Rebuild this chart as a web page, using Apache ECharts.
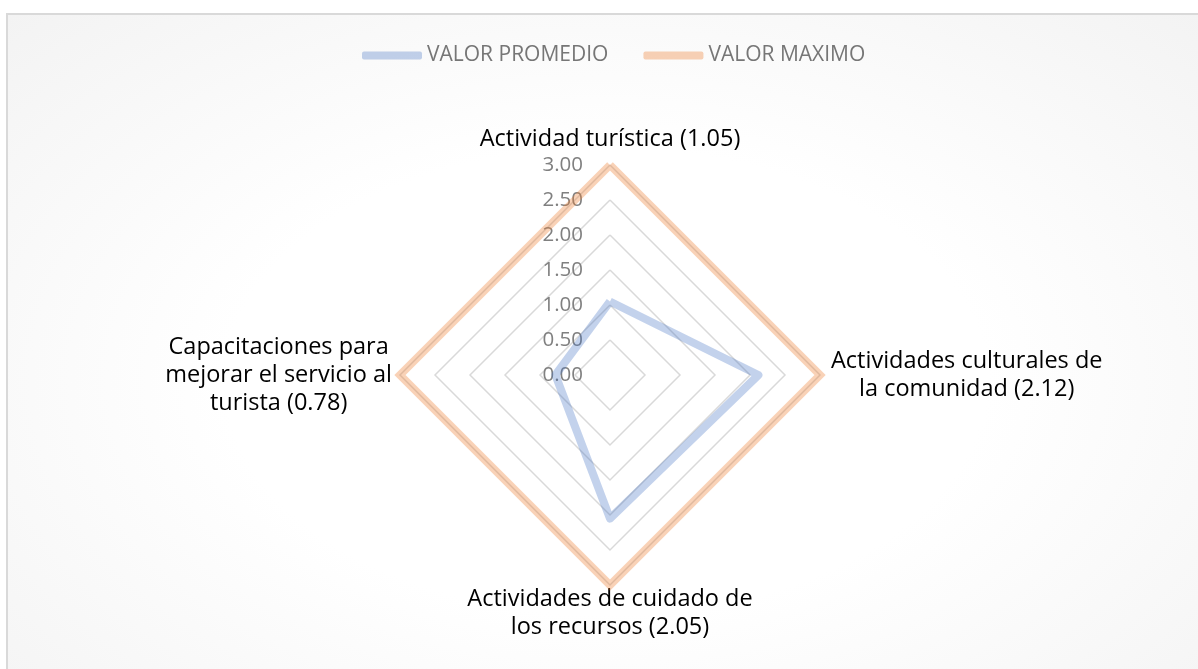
<!DOCTYPE html>
<html>
<head>
<meta charset="utf-8">
<script src="https://cdn.jsdelivr.net/npm/echarts@6/dist/echarts.min.js"></script>
<style>
html,body{margin:0;padding:0;background:#fff;width:1198px;height:669px;overflow:hidden;}
#frame{position:absolute;left:6px;top:13px;width:1200px;height:670px;box-sizing:border-box;border:2px solid #d9d9d9;
background:radial-gradient(ellipse at 50% 55%, #ffffff 0%, #ffffff 45%, #f3f3f3 100%);}
#chart{position:absolute;left:0;top:0;width:1196px;height:666px;}
</style>
</head>
<body>
<div id="frame"><div id="chart"></div></div>
<script>
// categories in clockwise order starting at the top
const categories = [
  'Actividad turística (1.05)',
  'Actividades culturales de\nla comunidad (2.12)',
  'Actividades de cuidado de\nlos recursos (2.05)',
  'Capacitaciones para\nmejorar el servicio al\nturista (0.78)'
];
const promedio = [1.05, 2.12, 2.05, 0.78];
const maximo = [3, 3, 3, 3];
const seriesNames = ['VALOR PROMEDIO', 'VALOR MAXIMO'];
const axisMax = 3;
const axisStep = 0.5;

// ECharts radar runs counter-clockwise; reorder so the picture reads clockwise
const order = [0, 3, 2, 1];
const pick = arr => order.map(i => arr[i]);
// label style per position (top, right, bottom, left)
const nameStyleKey = ['t', 'r', 'b', 'l'];

const FONT = 'Open Sans';
const CX = 602, CY = 360, R = 210;
const NAME_SIZE = 23.5, NAME_LH = 28;
const nameRich = (pad) => ({align: 'center', fontFamily: FONT, fontSize: NAME_SIZE, lineHeight: NAME_LH, color: '#000', padding: pad});

const chart = echarts.init(document.getElementById('chart'), null, {renderer: 'canvas'});
chart.setOption({
  backgroundColor: 'transparent',
  textStyle: {fontFamily: FONT},
  legend: {
    top: 25,
    left: 349,
    data: seriesNames,
    icon: 'roundRect',
    itemWidth: 60,
    itemHeight: 8,
    itemGap: 35,
    textStyle: {fontFamily: FONT, fontSize: 21, color: '#767676'}
  },
  polar: {center: [CX, CY], radius: R},
  angleAxis: {show: false, type: 'value', min: 0, max: 360, startAngle: 90},
  radiusAxis: {
    type: 'value', min: 0, max: axisMax, interval: axisStep,
    axisLine: {show: false}, axisTick: {show: false}, splitLine: {show: false},
    axisLabel: {
      show: true, fontFamily: FONT, fontSize: 20.5, color: '#808080', margin: 27,
      formatter: v => v.toFixed(2)
    }
  },
  radar: {
    center: [CX, CY],
    radius: R,
    startAngle: 90,
    splitNumber: axisMax / axisStep,
    shape: 'polygon',
    indicator: pick(categories).map(n => ({name: n, min: 0, max: axisMax})),
    nameGap: 0,
    axisName: {
      color: '#000',
      fontFamily: FONT,
      fontSize: NAME_SIZE,
      lineHeight: NAME_LH,
      formatter: function (name) {
        const k = nameStyleKey[categories.indexOf(name)];
        return name.split('\n').map(l => '{' + k + '|' + l + '}').join('\n');
      },
      rich: {
        t: nameRich([0, 0, 24, 0]),
        r: nameRich([0, 0, 0, 11]),
        b: nameRich([0, 0, 0, 0]),
        l: nameRich([0, 8, 0, 0])
      }
    },
    axisLine: {show: false},
    axisTick: {show: false},
    axisLabel: {show: false},
    splitLine: {lineStyle: {color: '#d9d9d9', width: 1.5}},
    splitArea: {show: false}
  },
  series: [{
    type: 'radar',
    symbol: 'none',
    data: [
      {name: seriesNames[0], value: pick(promedio),
       lineStyle: {color: 'rgba(68,114,196,0.32)', width: 8, join: 'round'},
       itemStyle: {color: 'rgba(68,114,196,0.32)'}},
      {name: seriesNames[1], value: pick(maximo),
       lineStyle: {color: 'rgba(237,125,49,0.35)', width: 8, join: 'miter'},
       itemStyle: {color: 'rgba(237,125,49,0.35)'}}
    ]
  }]
});
</script>
</body>
</html>
